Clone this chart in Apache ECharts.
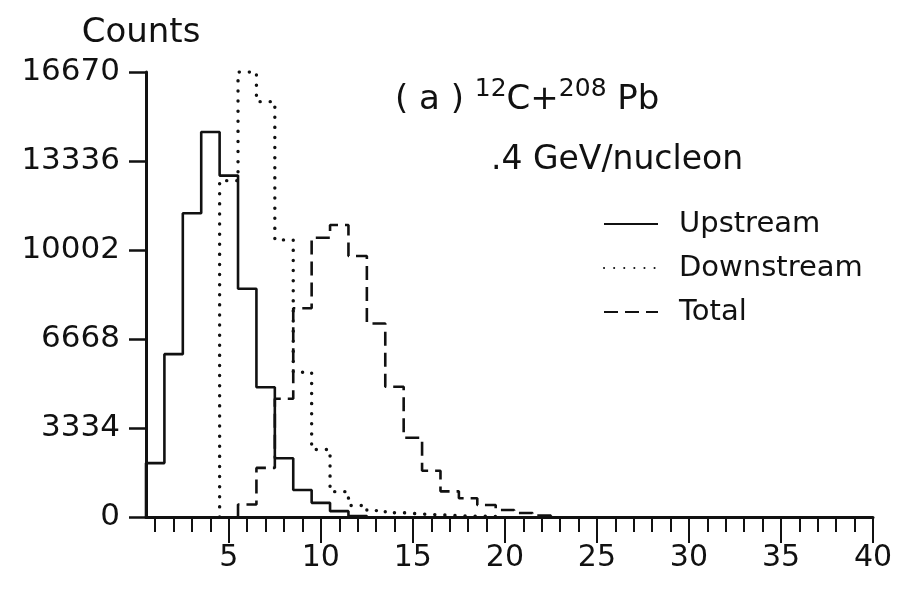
<!DOCTYPE html>
<html>
<head>
<meta charset="utf-8">
<title>Counts histogram</title>
<script src="https://cdn.jsdelivr.net/npm/echarts@6/dist/echarts.min.js"></script>
<style>
  html, body { margin: 0; padding: 0; background: #fff; }
  #chart { width: 905px; height: 590px; }
</style>
</head>
<body>
<div id="chart"></div>
<script>
// Bin centres (unit-wide bins, edges at k ± 0.5)
const bins = [1, 2, 3, 4, 5, 6, 7, 8, 9, 10, 11, 12, 13, 14, 15, 16, 17, 18, 19, 20, 21, 22, 23, 24];

// Counts per bin
const upstream   = [2020, 6100, 11380, 14420, 12790, 8550, 4860, 2200, 1010, 530, 220, 40, 0, 0, 0, 0, 0, 0, 0, 0, 0, 0, 0, 0];
const downstream = [0, 0, 0, 0, 12600, 16670, 15560, 10380, 5420, 2530, 950, 430, 240, 160, 110, 80, 50, 30, 20, 0, 0, 0, 0, 0];
const total      = [0, 0, 0, 0, 0, 470, 1840, 4430, 7820, 10460, 10940, 9780, 7250, 4880, 2970, 1730, 960, 700, 450, 262, 150, 50, 0, 0];

// Axis ticks and labels
const yTicks = [0, 3334, 6668, 10002, 13336, 16670];
const xMinorTicks = [1, 2, 3, 4, 5, 6, 7, 8, 9, 10, 11, 12, 13, 14, 15, 16, 17, 18, 19, 20,
                     21, 22, 23, 24, 25, 26, 27, 28, 29, 30, 31, 32, 33, 34, 35, 36, 37, 38, 39, 40];
const xMajorTicks = [5, 10, 15, 20, 25, 30, 35, 40];

const seriesNames = ['Upstream', 'Downstream', 'Total'];

// Turn per-bin counts into a step outline: rise from zero at the first
// non-empty bin's left edge, run across each bin, drop back to zero after the last.
function stepOutline(centres, counts) {
  let first = counts.findIndex(v => v > 0);
  let last = counts.length - 1;
  while (last > first && counts[last] === 0) last--;
  const pts = [[centres[first] - 0.5, 0]];
  for (let i = first; i <= last; i++) pts.push([centres[i] - 0.5, counts[i]]);
  pts.push([centres[last] + 0.5, 0]);
  return pts;
}

const font = 'DejaVu Sans';
const ink = '#111';

const chart = echarts.init(document.getElementById('chart'), null, { renderer: 'canvas' });

chart.setOption({
  backgroundColor: '#ffffff',
  animation: false,
  textStyle: { fontFamily: font, color: ink },
  title: [
    {
      text: '{p|( a ) }{s|12}{p|C+}{s|208}{p| Pb}',
      left: 390, top: 72,
      textStyle: {
        fontWeight: 'normal',
        rich: {
          p: { fontFamily: font, fontSize: 34, fontWeight: 'normal', color: ink, lineHeight: 46 },
          s: { fontFamily: font, fontSize: 25, fontWeight: 'normal', color: ink, verticalAlign: 'top', lineHeight: 27 }
        }
      }
    },
    {
      text: '.4 GeV/nucleon',
      left: 486, top: 139,
      textStyle: { fontFamily: font, fontSize: 33, fontWeight: 'normal', color: ink }
    }
  ],
  legend: {
    orient: 'vertical',
    left: 598, top: 204,
    itemWidth: 54, itemHeight: 14, itemGap: 14,
    data: seriesNames,
    itemStyle: { opacity: 0 },
    textStyle: { fontFamily: font, fontSize: 29, color: ink, lineHeight: 30, padding: [0, 0, 0, 16] },
    inactiveColor: ink
  },
  grid: { left: 146, right: 32, top: 72, bottom: 73, outerBoundsMode: 'none' },
  xAxis: [
    {
      type: 'value', min: 0.5, max: 40,
      axisLine: { show: true, onZero: false, lineStyle: { color: ink, width: 3 } },
      axisTick: { show: true, customValues: xMinorTicks, length: 15, lineStyle: { color: ink, width: 2 } },
      axisLabel: { customValues: xMajorTicks, margin: 26, fontFamily: font, fontSize: 30, color: ink },
      splitLine: { show: false }
    },
    {
      type: 'value', min: 0.5, max: 40, position: 'bottom',
      axisLine: { show: false },
      axisTick: { show: true, customValues: xMajorTicks, length: 26, lineStyle: { color: ink, width: 2 } },
      axisLabel: { show: false, customValues: xMajorTicks },
      splitLine: { show: false }
    }
  ],
  yAxis: {
    type: 'value', min: 0, max: 16670, interval: 3334,
    name: 'Counts', nameLocation: 'end', nameGap: 22,
    nameTextStyle: { fontFamily: font, fontSize: 34, color: ink, align: 'center', padding: [0, 10, 0, 0] },
    axisLine: { show: true, lineStyle: { color: ink, width: 3 } },
    axisTick: { show: true, customValues: yTicks, length: 17, lineStyle: { color: ink, width: 2.5 } },
    axisLabel: {
      customValues: yTicks, margin: 26, fontFamily: font, fontSize: 31, color: ink,
      formatter: v => String(Math.round(v))
    },
    splitLine: { show: false }
  },
  series: [
    {
      name: 'Upstream', type: 'line', step: 'end', symbol: 'none',
      data: stepOutline(bins, upstream),
      color: ink,
      lineStyle: { color: ink, width: 2.6, type: 'solid' },
      z: 4
    },
    {
      name: 'Downstream', type: 'line', step: 'end', symbol: 'none',
      data: stepOutline(bins, downstream),
      color: ink,
      lineStyle: { color: ink, width: 3.4, type: [0.1, 10], cap: 'round' },
      z: 3
    },
    {
      name: 'Total', type: 'line', step: 'end', symbol: 'none',
      data: stepOutline(bins, total),
      color: ink,
      lineStyle: { color: ink, width: 2.6, type: [14, 7] },
      z: 3
    }
  ]
});
</script>
</body>
</html>
